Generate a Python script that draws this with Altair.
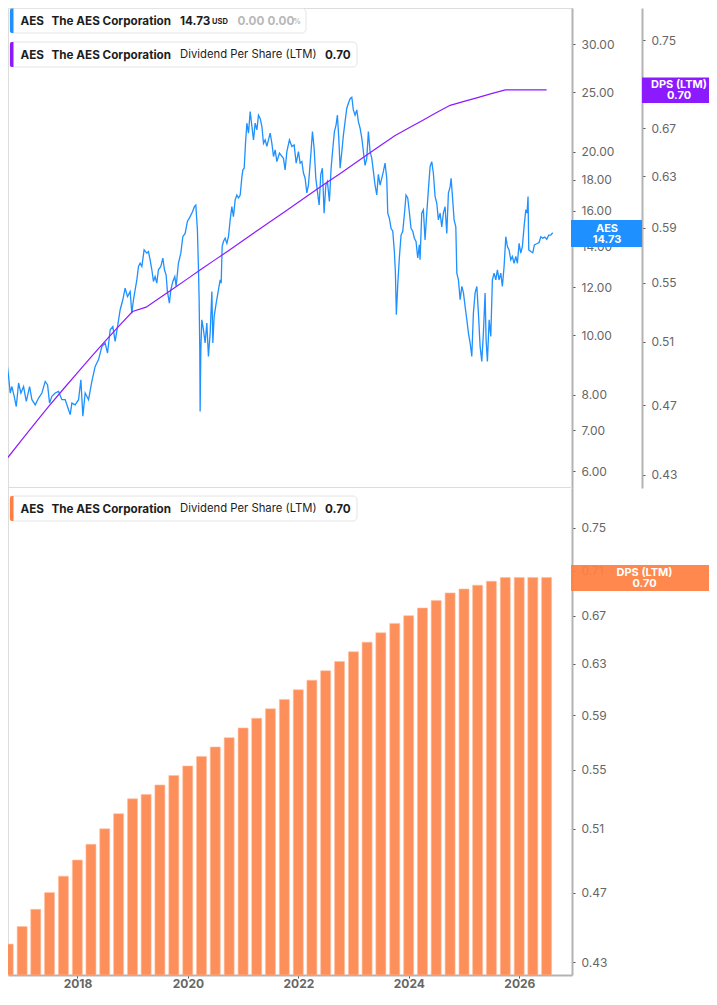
import altair as alt
import pandas as pd

# ---------------- data ----------------
# AES close price, time as decimal year
price_t = [2016.601, 2016.631, 2016.673, 2016.722, 2016.752, 2016.782, 2016.812, 2016.854, 2016.891, 2016.933,
           2016.975, 2017.023, 2017.072, 2017.132, 2017.174, 2017.235, 2017.295, 2017.355, 2017.415, 2017.458,
           2017.494, 2017.536, 2017.596, 2017.657, 2017.717, 2017.777, 2017.838, 2017.868, 2017.898, 2017.958,
           2018.019, 2018.061, 2018.097, 2018.139, 2018.200, 2018.260, 2018.320, 2018.381, 2018.441, 2018.501,
           2018.544, 2018.592, 2018.640, 2018.682, 2018.725, 2018.773, 2018.821, 2018.863, 2018.906, 2018.954,
           2018.984, 2019.014, 2019.044, 2019.075, 2019.105,
           2019.135, 2019.166, 2019.207, 2019.256, 2019.285, 2019.316, 2019.347, 2019.376, 2019.406, 2019.437,
           2019.466, 2019.510, 2019.546, 2019.575, 2019.606, 2019.629, 2019.665, 2019.691, 2019.727, 2019.763,
           2019.787, 2019.828, 2019.872, 2019.908, 2019.950, 2019.991, 2020.040, 2020.081, 2020.118, 2020.143,
           2020.172, 2020.190, 2020.203, 2020.215, 2020.221, 2020.234, 2020.252, 2020.281, 2020.311, 2020.342,
           2020.371, 2020.402, 2020.433, 2020.451, 2020.474, 2020.511, 2020.552, 2020.583, 2020.601, 2020.619,
           2020.642, 2020.673, 2020.704, 2020.733, 2020.764, 2020.794, 2020.823, 2020.854, 2020.885, 2020.914,
           2020.945, 2020.976, 2020.994, 2021.017, 2021.041, 2021.066, 2021.095, 2021.126, 2021.157, 2021.186,
           2021.216, 2021.247, 2021.276, 2021.307, 2021.338, 2021.367, 2021.397, 2021.428, 2021.457, 2021.488,
           2021.519, 2021.548, 2021.578, 2021.609, 2021.656,
           2021.728, 2021.759, 2021.790, 2021.837, 2021.881, 2021.922, 2021.959, 2022.000, 2022.031, 2022.062,
           2022.091, 2022.121, 2022.152, 2022.181, 2022.224, 2022.254, 2022.284, 2022.315, 2022.344, 2022.375,
           2022.405, 2022.434, 2022.465, 2022.496, 2022.525, 2022.561, 2022.592, 2022.623, 2022.652, 2022.682,
           2022.706, 2022.731, 2022.755, 2022.786, 2022.815, 2022.845, 2022.876, 2022.905, 2022.936, 2022.967,
           2022.995, 2023.026, 2023.057, 2023.086, 2023.117, 2023.148, 2023.177, 2023.207, 2023.238, 2023.267,
           2023.298, 2023.329, 2023.358, 2023.388, 2023.419, 2023.448, 2023.479, 2023.510, 2023.539, 2023.569,
           2023.600, 2023.618, 2023.647, 2023.678, 2023.709, 2023.738, 2023.756, 2023.774, 2023.799, 2023.828,
           2023.859, 2023.890, 2023.919, 2023.949, 2023.980, 2024.009, 2024.040, 2024.071, 2024.100, 2024.130,
           2024.161, 2024.190,
           2024.203, 2024.233, 2024.263, 2024.293, 2024.324, 2024.353, 2024.384, 2024.414, 2024.443, 2024.474,
           2024.505, 2024.534, 2024.565, 2024.595, 2024.624, 2024.655, 2024.686, 2024.715, 2024.746, 2024.764,
           2024.788, 2024.818, 2024.849, 2024.867, 2024.896, 2024.927, 2024.958, 2024.987, 2025.017, 2025.048,
           2025.077, 2025.108, 2025.138, 2025.167, 2025.198, 2025.229, 2025.258, 2025.289, 2025.319, 2025.348,
           2025.379, 2025.397, 2025.421, 2025.452, 2025.482, 2025.511, 2025.542, 2025.573, 2025.602, 2025.632,
           2025.663, 2025.692, 2025.723, 2025.754, 2025.783, 2025.813, 2025.844, 2025.873, 2025.904, 2025.935,
           2025.964, 2025.995, 2026.025, 2026.054, 2026.085, 2026.116, 2026.139, 2026.157, 2026.170, 2026.206,
           2026.243, 2026.272, 2026.315, 2026.357, 2026.388, 2026.424, 2026.460, 2026.496, 2026.532, 2026.568,
           2026.604]
price_v = [8.36, 8.57, 8.79, 9.03, 8.57, 8.05, 8.25, 7.95, 7.65, 8.36,
           8.05, 8.25, 7.80, 8.25, 7.85, 7.70, 7.90, 8.05, 8.41, 8.30,
           7.75, 7.95, 8.05, 8.10, 7.85, 7.85, 7.56, 7.42, 7.75, 7.70,
           7.85, 8.46, 7.38, 8.05, 7.85, 8.41, 8.90, 9.13, 9.59, 9.72,
           9.36, 10.22, 10.34, 9.78, 10.34, 11.02, 11.44, 11.95, 11.58, 11.80,
           10.88, 11.44, 11.88, 12.33, 12.97,
           13.13, 12.97, 13.81, 13.64, 13.72, 13.30, 12.81, 12.26, 12.49, 12.18,
           12.81, 12.97, 13.39, 12.81, 12.56, 11.80, 11.30, 11.88, 12.26, 12.49,
           12.03, 13.13, 13.64, 14.51, 14.69, 15.37, 15.65, 15.93, 16.25, 16.35,
           14.89, 12.97, 11.44, 9.48, 7.51, 9.48, 10.61, 10.22, 9.72, 10.48,
           9.24, 10.09, 11.80, 9.72, 10.74, 11.30, 11.88, 12.33, 12.18, 13.98,
           14.25, 14.43, 14.15, 14.51, 15.46, 16.25, 15.65, 16.67, 16.98, 16.79,
           16.98, 18.20, 18.67, 18.78, 20.63, 22.26, 21.44, 23.26, 21.98, 20.90,
           22.26, 21.70, 22.94, 22.66, 21.98, 20.63, 20.90, 20.39, 20.90, 21.44,
           20.63, 19.63, 20.13, 19.26, 19.88,
           19.50, 18.67, 19.99, 20.90, 20.39, 20.51, 19.15, 19.99, 19.15, 19.26,
           18.45, 18.09, 17.11, 17.63, 19.75, 21.57, 20.24, 18.09, 17.21, 16.35,
           18.35, 18.78, 15.86, 17.63, 17.87, 16.57, 18.78, 20.24, 21.57, 22.12,
           22.94, 21.04, 18.78, 19.99, 21.30, 22.39, 23.55, 23.99, 24.41, 24.55,
           23.40, 22.94, 23.40, 22.39, 21.84, 21.04, 19.99, 18.99, 19.50, 21.57,
           19.99, 19.50, 18.56, 17.63, 16.98, 18.35, 17.63, 18.09, 18.56, 19.15,
           18.09, 15.86, 15.56, 14.98, 14.81, 13.72, 12.73, 10.81, 12.10, 13.39,
           14.60, 14.81, 15.76, 16.98, 16.79, 15.93, 14.98, 14.81, 14.43, 14.25,
           13.39, 14.07,
           13.30, 15.86, 16.06, 14.34, 15.86, 17.31, 18.89, 19.26, 18.45, 16.89,
           16.46, 15.46, 15.86, 15.06, 15.86, 16.25, 14.69, 17.11, 17.51, 18.09,
           16.89, 15.46, 15.06, 12.65, 12.33, 11.44, 12.03, 11.74, 11.15, 10.61,
           10.09, 9.72, 9.24, 10.88, 11.74, 12.03, 10.88, 9.59, 9.07, 10.09,
           11.74, 9.84, 9.07, 10.61, 9.96, 12.33, 12.65, 12.33, 12.81, 12.33,
           12.65, 12.03, 12.97, 14.51, 13.98, 13.81, 13.30, 13.47, 13.13, 13.47,
           13.13, 14.15, 13.64, 13.98, 15.06, 16.06, 15.86, 16.89, 13.81, 13.72,
           13.66, 14.07, 14.13, 14.20, 14.51, 14.43, 14.49, 14.37, 14.60, 14.60,
           14.73]

# Dividend per share (LTM), quarter ends 2016-Q2 .. 2026-Q2
dps_dates = ["2016-06-30", "2016-09-30", "2016-12-31", "2017-03-31", "2017-06-30", "2017-09-30", "2017-12-31",
             "2018-03-31", "2018-06-30", "2018-09-30", "2018-12-31", "2019-03-31", "2019-06-30", "2019-09-30",
             "2019-12-31", "2020-03-31", "2020-06-30", "2020-09-30", "2020-12-31", "2021-03-31", "2021-06-30",
             "2021-09-30", "2021-12-31", "2022-03-31", "2022-06-30", "2022-09-30", "2022-12-31", "2023-03-31",
             "2023-06-30", "2023-09-30", "2023-12-31", "2024-03-31", "2024-06-30", "2024-09-30", "2024-12-31",
             "2025-03-31", "2025-06-30", "2025-09-30", "2025-12-31", "2026-03-31", "2026-06-30"]
dps_values = [0.430, 0.440, 0.450, 0.460, 0.470, 0.480, 0.490, 0.500, 0.510, 0.520, 0.530, 0.533, 0.5395, 0.546,
              0.5528, 0.5596, 0.5664, 0.5732, 0.5804, 0.5876, 0.5948, 0.602, 0.6095, 0.617, 0.6245, 0.632,
              0.6399, 0.6478, 0.6557, 0.6636, 0.6702, 0.6768, 0.6834, 0.690, 0.6935, 0.6969, 0.7004, 0.7038,
              0.7038, 0.7038, 0.7038]

price_ticks = [6, 7, 8, 10, 12, 14, 16, 18, 20, 25, 30]
dps_ticks_top = [0.43, 0.47, 0.51, 0.55, 0.59, 0.63, 0.67, 0.71, 0.75]
dps_ticks_bottom = [0.43, 0.47, 0.51, 0.55, 0.59, 0.63, 0.67, 0.71, 0.75]
year_ticks = [2018, 2020, 2022, 2024, 2026]

ticker = "AES"
company = "The AES Corporation"
last_price = "14.73"
currency = "USD"
change_abs = "0.00"
change_pct = "0.00"
metric = "Dividend Per Share (LTM)"
metric_short = "DPS (LTM)"
last_dps = "0.70"

# ---------------- styling ----------------
BLUE = "#1E90FF"
PURPLE = "#8C1AFF"
ORANGE_BAR = "#FD8F5B"
ORANGE_BOX = "#FF7F41"
FONT = "Inter"
TXT = "#1d1d1d"
PRICE_DOMAIN = [5.628, 34.36]
DPS_DOMAIN_TOP = [0.4229, 0.7815]
DPS_DOMAIN_BOTTOM = [0.4229, 0.7893]


def dec_to_iso(y):
    yr = int(y)
    start = pd.Timestamp(yr, 1, 1)
    end = pd.Timestamp(yr + 1, 1, 1)
    return (start + (end - start) * (y - yr)).strftime("%Y-%m-%dT%H:%M:%S")


price_df = pd.DataFrame({"date": [dec_to_iso(t) for t in price_t], "close": price_v})
dps_df = pd.DataFrame({"date": [d + "T00:00:00" for d in dps_dates], "dps": dps_values})
bar_df = dps_df.iloc[1:].reset_index(drop=True)
one = pd.DataFrame({"k": [0]})

AX = dict(title=None, grid=False, domainColor="#b3b3b3", domainWidth=2, tickColor="#555555", tickSize=3,
          tickWidth=1, labelColor="#666666", labelFontSize=12, labelFont=FONT, labelPadding=6,
          labelOverlap=False, labelFlush=False, labelBound=False)

X = alt.X("date:T",
          scale=alt.Scale(domain=[alt.DateTime(year=2016, month=9, date=28, hours=10),
                                  alt.DateTime(year=2026, month=12, date=15)], padding=0),
          axis=alt.Axis(title=None, grid=False, format="%Y",
                        values=[alt.DateTime(year=y, month=1, date=1) for y in year_ticks],
                        domainColor="#b3b3b3", domainWidth=2, tickColor="#555555", tickSize=3,
                        labelColor="#666666", labelFontSize=12, labelFontWeight="bold", labelFont=FONT,
                        labelPadding=0))

price_line = alt.Chart(price_df).mark_line(color=BLUE, strokeWidth=1.3, clip=True).encode(
    x=X,
    y=alt.Y("close:Q",
            scale=alt.Scale(type="log", domain=PRICE_DOMAIN, range=[480, 0], nice=False, zero=False),
            axis=alt.Axis(orient="right", values=price_ticks, format=".2f", **AX)))

dps_line = alt.Chart(dps_df).mark_line(color=PURPLE, strokeWidth=1.2, clip=True).encode(
    x=X,
    y=alt.Y("dps:Q",
            scale=alt.Scale(type="log", domain=DPS_DOMAIN_TOP, range=[480, 0], nice=False, zero=False),
            axis=alt.Axis(orient="right", offset=70, values=dps_ticks_top, format=".2f", **AX)))

bars = alt.Chart(bar_df).mark_bar(color=ORANGE_BAR, size=10, stroke="#ffc0a0", strokeWidth=0.6,
                                  clip=True).encode(
    x=X,
    y=alt.Y("dps:Q",
            scale=alt.Scale(type="log", domain=DPS_DOMAIN_BOTTOM, range=[967, 480], nice=False, zero=False),
            axis=alt.Axis(orient="right", values=dps_ticks_bottom, format=".2f", **AX)),
    y2=alt.datum(DPS_DOMAIN_BOTTOM[0]))


def box(x1, x2, y1, y2, **kw):
    return alt.Chart(one).mark_rect(**kw).encode(
        x=alt.value(x1), x2=alt.value(x2), y=alt.value(y1), y2=alt.value(y2))


def label(x, y, s, size=11.7, weight="bold", color=TXT, align="left"):
    return alt.Chart(one).mark_text(text=s, fontSize=size, fontWeight=weight, color=color, align=align,
                                    baseline="middle", font=FONT).encode(x=alt.value(x), y=alt.value(y))


divider = alt.Chart(one).mark_rule(color="#dcdcdc", strokeWidth=1).encode(
    x=alt.value(0), x2=alt.value(564), y=alt.value(479.5))


def legend_box(y1, y2, accent, right):
    return [box(2, right, y1, y2, fill="white", stroke="#e4e4e4", strokeWidth=1, cornerRadius=4),
            box(2, 5.5, y1, y2, fill=accent, cornerRadiusTopLeft=4, cornerRadiusBottomLeft=4)]


layers = [price_line, dps_line, bars, divider]

# legend 1 (price)
cy = 12.7
layers += legend_box(0.5, 25, BLUE, 298)
layers += [label(12.5, cy, ticker), label(43.5, cy, company), label(172, cy, last_price),
           label(204, cy + 1.5, currency, size=7.5),
           label(229.5, cy, change_abs, color="#b8b8b8"), label(259.5, cy, change_pct, color="#b8b8b8"),
           label(285.3, cy + 1.5, "%", size=7.5, color="#b8b8b8")]
# legend 2 (DPS line)
cy = 46.7
layers += legend_box(34, 59, PURPLE, 349)
layers += [label(12.5, cy, ticker), label(43.5, cy, company),
           label(172, cy, metric, size=11.3, weight="normal"), label(317, cy, last_dps)]
# legend 3 (DPS bars)
cy = 500.7
layers += legend_box(488, 513, ORANGE_BOX, 349)
layers += [label(12.5, cy, ticker), label(43.5, cy, company),
           label(172, cy, metric, size=11.3, weight="normal"), label(317, cy, last_dps)]

# right-side value tags
layers += [box(563, 634, 212, 239, fill=BLUE),
           label(599, 220.5, ticker, size=11, color="white", align="center"),
           label(599, 231.5, last_price, size=11, color="white", align="center"),
           box(634, 712, 69.5, 95, fill=PURPLE),
           label(671, 76.5, metric_short, size=11, color="white", align="center"),
           label(671, 87.5, last_dps, size=11, color="white", align="center"),
           box(563, 712, 557, 583, fill=ORANGE_BOX, opacity=0.93),
           label(636.5, 564.5, metric_short, size=11, color="white", align="center"),
           label(636.5, 575.5, last_dps, size=11, color="white", align="center")]

chart = alt.layer(*layers).resolve_scale(y="independent").properties(
    width=564, height=967,
    autosize=alt.AutoSizeParams(type="none"),
    padding={"left": 0, "top": 0, "right": 137, "bottom": 16},
).configure_view(strokeWidth=0, strokeOpacity=0).configure(font=FONT).configure_axisLeft(
    domain=False, ticks=False, labels=False)

chart.save("out.html", embed_options={"renderer": "svg", "actions": False})
